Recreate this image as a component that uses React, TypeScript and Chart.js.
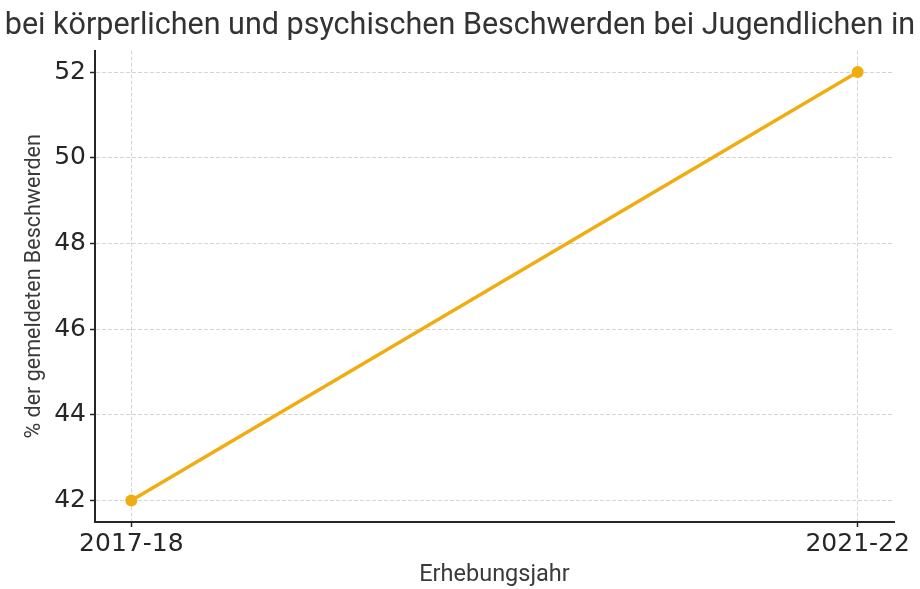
import React, { useEffect, useRef } from "react";
import { Chart, registerables } from "chart.js";

Chart.register(...registerables);

const categories = ["2017-18", "2021-22"];
const values = [42, 52];
const yTicks = [42, 44, 46, 48, 50, 52];
const titleText = "bei körperlichen und psychischen Beschwerden bei Jugendlichen in";
const yTitle = "% der gemeldeten Beschwerden";
const xTitle = "Erhebungsjahr";

const LINE_COLOR = "#F0AD12";
const GRID = "#d4d4d4";
const AXIS = "#262626";
const TICK_FONT = { family: "DejaVu Sans", size: 25 };

export default function App() {
  const ref = useRef<HTMLCanvasElement | null>(null);
  useEffect(() => {
    document.body.style.margin = "0";
    const ctx = ref.current!.getContext("2d")!;
    const gridOpts = {
      color: GRID,
      lineWidth: 1,
      drawTicks: true,
      tickLength: 5,
      tickColor: AXIS,
      tickWidth: 1.5,
      tickBorderDash: [],
    };
    const chart = new Chart(ctx, {
      type: "line",
      data: {
        datasets: [
          {
            data: values.map((v, i) => ({ x: i, y: v })),
            borderColor: LINE_COLOR,
            backgroundColor: LINE_COLOR,
            borderWidth: 3.5,
            pointRadius: 6,
            pointBorderWidth: 0,
            pointBackgroundColor: LINE_COLOR,
            tension: 0,
          },
        ],
      },
      options: {
        animation: false,
        responsive: false,
        maintainAspectRatio: false,
        layout: { padding: { left: 0, right: 0, top: 0, bottom: 0 } },
        plugins: {
          legend: { display: false },
          tooltip: { enabled: false },
          title: {
            display: true,
            text: titleText,
            color: "#333333",
            font: { family: "Roboto", size: 30.5, weight: "normal" },
            padding: { top: 8, bottom: 6 },
          },
        },
        scales: {
          x: {
            type: "linear",
            min: -0.05,
            max: 1.05,
            afterBuildTicks: (scale: any) => {
              scale.ticks = categories.map((_, i) => ({ value: i }));
            },
            afterFit: (scale: any) => {
              scale.height = 67;
            },
            ticks: {
              autoSkip: false,
              maxRotation: 0,
              color: AXIS,
              font: TICK_FONT,
              padding: 2,
              callback: (v: any) => categories[v] ?? "",
            },
            grid: gridOpts as any,
            border: { display: true, color: AXIS, width: 2, dash: [4, 2] },
            title: {
              display: true,
              text: xTitle,
              color: "#3a3a3a",
              font: { family: "Roboto", size: 23.5 },
              padding: { top: 0, bottom: 0 },
            },
          },
          y: {
            type: "linear",
            min: 41.5,
            max: 52.5,
            afterBuildTicks: (scale: any) => {
              scale.ticks = yTicks.map((v) => ({ value: v }));
            },
            afterFit: (scale: any) => {
              scale.width = 95;
            },
            ticks: {
              color: AXIS,
              font: TICK_FONT,
              padding: 4,
              callback: (v: any) => String(v),
            },
            grid: gridOpts as any,
            border: { display: true, color: AXIS, width: 2, dash: [4, 2] },
            title: {
              display: true,
              text: yTitle,
              color: "#3a3a3a",
              font: { family: "Roboto", size: 21.5 },
              padding: { top: 22, bottom: 0 },
            },
          },
          yPad: {
            type: "linear",
            position: "right",
            display: true,
            min: 41.5,
            max: 52.5,
            afterFit: (scale: any) => {
              scale.width = 26;
            },
            ticks: { display: false },
            grid: { display: false, drawTicks: false },
            border: { display: false },
          },
        },
      },
    } as any);
    return () => chart.destroy();
  }, []);
  return (
    <div style={{ width: 920, height: 589 }}>
      <canvas ref={ref} width={920} height={589} style={{ display: "block" }} />
    </div>
  );
}
